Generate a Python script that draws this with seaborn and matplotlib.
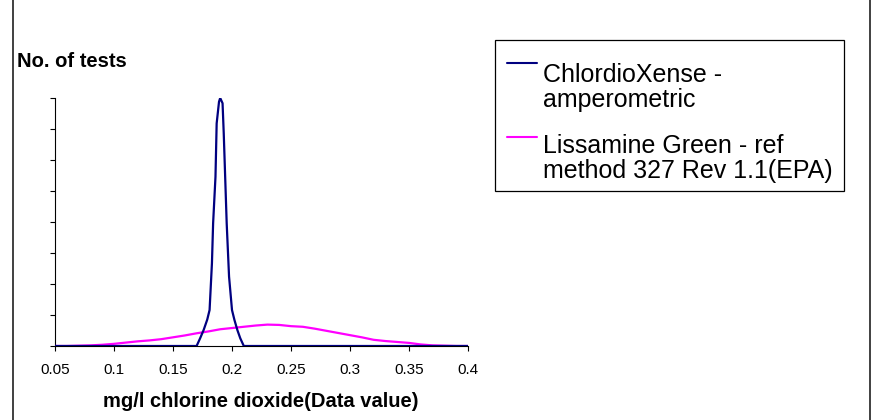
import matplotlib
matplotlib.use("Agg")
import matplotlib.pyplot as plt
from matplotlib.lines import Line2D
from matplotlib.patches import Rectangle
import seaborn as sns
import pandas as pd

# ---- data ----
blue_name = "ChlordioXense -\namperometric"
pink_name = "Lissamine Green - ref\nmethod 327 Rev 1.1(EPA)"

blue_x = [0.05, 0.10, 0.15, 0.17, 0.173, 0.176, 0.179, 0.181, 0.183, 0.184, 0.186, 0.187,
          0.189, 0.190, 0.192, 0.193, 0.1955, 0.1975, 0.200, 0.202, 0.2045, 0.207, 0.210,
          0.25, 0.30, 0.35, 0.40]
blue_y = [0, 0, 0, 0, 0.25, 0.52, 0.85, 1.16, 2.67, 3.96, 5.46, 7.18,
          7.88, 8.0, 7.83, 6.86, 3.96, 2.24, 1.16, 0.85, 0.52, 0.25, 0,
          0, 0, 0, 0]

pink_x = [0.05, 0.06, 0.07, 0.08, 0.09, 0.10, 0.11, 0.12, 0.13, 0.14, 0.15,
          0.16, 0.17, 0.18, 0.19, 0.20, 0.21, 0.22, 0.23, 0.24, 0.25, 0.26,
          0.27, 0.28, 0.29, 0.30, 0.31, 0.32, 0.33, 0.34, 0.35, 0.36, 0.37,
          0.38, 0.39, 0.40]
pink_y = [0, 0, 0.01, 0.02, 0.04, 0.07, 0.11, 0.15, 0.18, 0.22, 0.28,
          0.34, 0.41, 0.47, 0.54, 0.58, 0.62, 0.66, 0.69, 0.68, 0.64, 0.62,
          0.56, 0.49, 0.42, 0.35, 0.28, 0.20, 0.16, 0.13, 0.10, 0.05, 0.02,
          0.01, 0.0, 0]

x_ticks = [0.05, 0.1, 0.15, 0.2, 0.25, 0.3, 0.35, 0.4]
x_tick_labels = ["0.05", "0.1", "0.15", "0.2", "0.25", "0.3", "0.35", "0.4"]
y_ticks = [0, 1, 2, 3, 4, 5, 6, 7, 8]

x_label = "mg/l chlorine dioxide(Data value)"
y_label = "No. of tests"

blue_color = "#000080"
pink_color = "#FF00FF"

# ---- figure ----
sns.set_theme(style="white")
plt.rcParams["font.family"] = ["Liberation Sans", "DejaVu Sans"]
plt.rcParams["text.color"] = "black"

W, H = 872, 420
fig = plt.figure(figsize=(W / 100, H / 100), dpi=100)

def fx(px):
    return px / W

def fy(py):
    return 1 - py / H

ax = fig.add_axes([fx(55), fy(346), fx(468) - fx(55), fy(98) - fy(346)])

df_b = pd.DataFrame({"x": blue_x, "y": blue_y})
df_p = pd.DataFrame({"x": pink_x, "y": pink_y})
sns.lineplot(data=df_p, x="x", y="y", ax=ax, color=pink_color, lw=1.6,
             estimator=None, sort=False, zorder=3)
sns.lineplot(data=df_b, x="x", y="y", ax=ax, color=blue_color, lw=1.6,
             estimator=None, sort=False, zorder=4)

ax.set_xlim(0.05, 0.4)
ax.set_ylim(0, 8)
ax.set_xticks(x_ticks)
ax.set_xticklabels(x_tick_labels, fontsize=11)
ax.set_yticks(y_ticks)
ax.set_yticklabels([])
ax.set_xlabel("")
ax.set_ylabel("")
for s in ["top", "right"]:
    ax.spines[s].set_visible(False)
for s in ["left", "bottom"]:
    ax.spines[s].set_color("black")
    ax.spines[s].set_linewidth(0.8)
ax.tick_params(axis="both", direction="out", length=3.6, width=0.8,
               color="black", labelcolor="black")
ax.tick_params(axis="x", pad=9, bottom=True)
ax.tick_params(axis="y", left=True)
ax.patch.set_alpha(0)
ax.margins(0)

# axis titles
fig.text(fx(17), fy(67), y_label, fontsize=14.5, fontweight="bold",
         ha="left", va="baseline", color="black")
fig.text(fx(261), fy(407), x_label, fontsize=14.5, fontweight="bold",
         ha="center", va="baseline", color="black")

# legend (drawn as box + handles + text)
fig.add_artist(Rectangle((fx(495), fy(191)), fx(844) - fx(495), fy(39.5) - fy(191),
                         transform=fig.transFigure, fill=False,
                         edgecolor="black", lw=0.9))
for c, ly in [(blue_color, 63.3), (pink_color, 137.3)]:
    fig.add_artist(Line2D([fx(507), fx(537)], [fy(ly), fy(ly)],
                          transform=fig.transFigure, color=c, lw=1.5))
legend_lines = [(blue_name.split("\n")[0], 81.7), (blue_name.split("\n")[1], 106.5),
                (pink_name.split("\n")[0], 153.3), (pink_name.split("\n")[1], 178.3)]
for t, by in legend_lines:
    fig.text(fx(543), fy(by), t, fontsize=18, ha="left", va="baseline",
             color="black")

# outer frame lines
for xx in [13, 870]:
    fig.add_artist(Line2D([fx(xx), fx(xx)], [0, 1], transform=fig.transFigure,
                          color="#404040", lw=1.4))

fig.savefig("out.png", dpi=100)
